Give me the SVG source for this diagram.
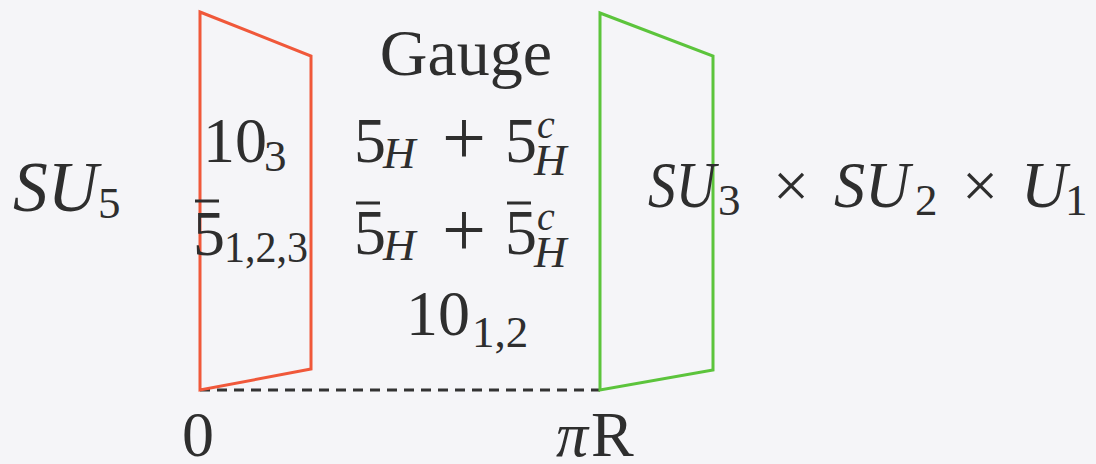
<svg xmlns="http://www.w3.org/2000/svg" width="1096" height="464" viewBox="0 0 1096 464">
<style>
text{font-family:"Liberation Serif","DejaVu Serif",serif;font-size:64px;fill:#2e2e2e}
.i{font-style:italic;font-size:66px}
.s{font-size:45px}
.si{font-size:45px;font-style:italic}
.sup{font-size:40px;font-style:italic}
.m{text-anchor:middle}
.op{text-anchor:middle;font-size:78px}
.bar{stroke:#2e2e2e;stroke-width:3}
.brane{fill:none;stroke-width:3;stroke-linejoin:miter}
</style>
<rect width="1096" height="464" fill="#f5f5f8"/>
<g id="connectors">
<line x1="200" y1="390" x2="600" y2="390" stroke="#333" stroke-width="3" stroke-dasharray="10,7"/>
</g>
<g id="brane0">
<polygon class="brane" stroke="#f0583a" points="200,12 311,56 311,369 200,390"/>
<text x="203" y="162">10</text><text class="s" x="264" y="171">3</text>
<text x="193" y="255">5</text><line class="bar" x1="195" y1="201" x2="219" y2="201"/><text class="s" x="224" y="262" textLength="84" lengthAdjust="spacingAndGlyphs">1,2,3</text>
</g>
<g id="branePiR">
<polygon class="brane" stroke="#5cc43c" points="600,13 713,56 713,370 600,390"/>
</g>
<g id="bulk">
<text class="m" x="466" y="75" style="font-size:66px">Gauge</text>
<text x="354" y="162">5</text><text class="si" x="383" y="168">H</text>
<text class="op" x="464" y="164">+</text>
<text x="505" y="162">5</text><text class="sup" x="537" y="138">c</text><text class="si" x="534" y="175">H</text>
<text x="354" y="254">5</text><line class="bar" x1="356" y1="203" x2="380" y2="203"/><text class="si" x="383" y="260">H</text>
<text class="op" x="464" y="256">+</text>
<text x="505" y="254">5</text><line class="bar" x1="507" y1="203" x2="531" y2="203"/><text class="sup" x="537" y="230">c</text><text class="si" x="534" y="267">H</text>
<text x="406" y="335">10</text><text class="s" x="472" y="347">1,2</text>
</g>
<g id="su5">
<text class="i" x="13" y="211" style="font-size:72px" textLength="85" lengthAdjust="spacingAndGlyphs">SU</text><text class="s" x="98" y="218">5</text>
</g>
<g id="sm">
<text class="i" x="648" y="207" textLength="68" lengthAdjust="spacingAndGlyphs">SU</text><text class="s" x="718" y="215">3</text>
<text class="m" x="791" y="207">×</text>
<text class="i" x="834" y="207" textLength="76" lengthAdjust="spacingAndGlyphs">SU</text><text class="s" x="915" y="215">2</text>
<text class="m" x="980" y="207">×</text>
<text class="i" x="1021" y="207" textLength="46" lengthAdjust="spacingAndGlyphs">U</text><text class="s" x="1065" y="215">1</text>
</g>
<g id="axis">
<text x="182" y="456">0</text>
<text class="i" x="556" y="456" style="font-size:64px">π</text><text x="591" y="456">R</text>
</g>
</svg>
